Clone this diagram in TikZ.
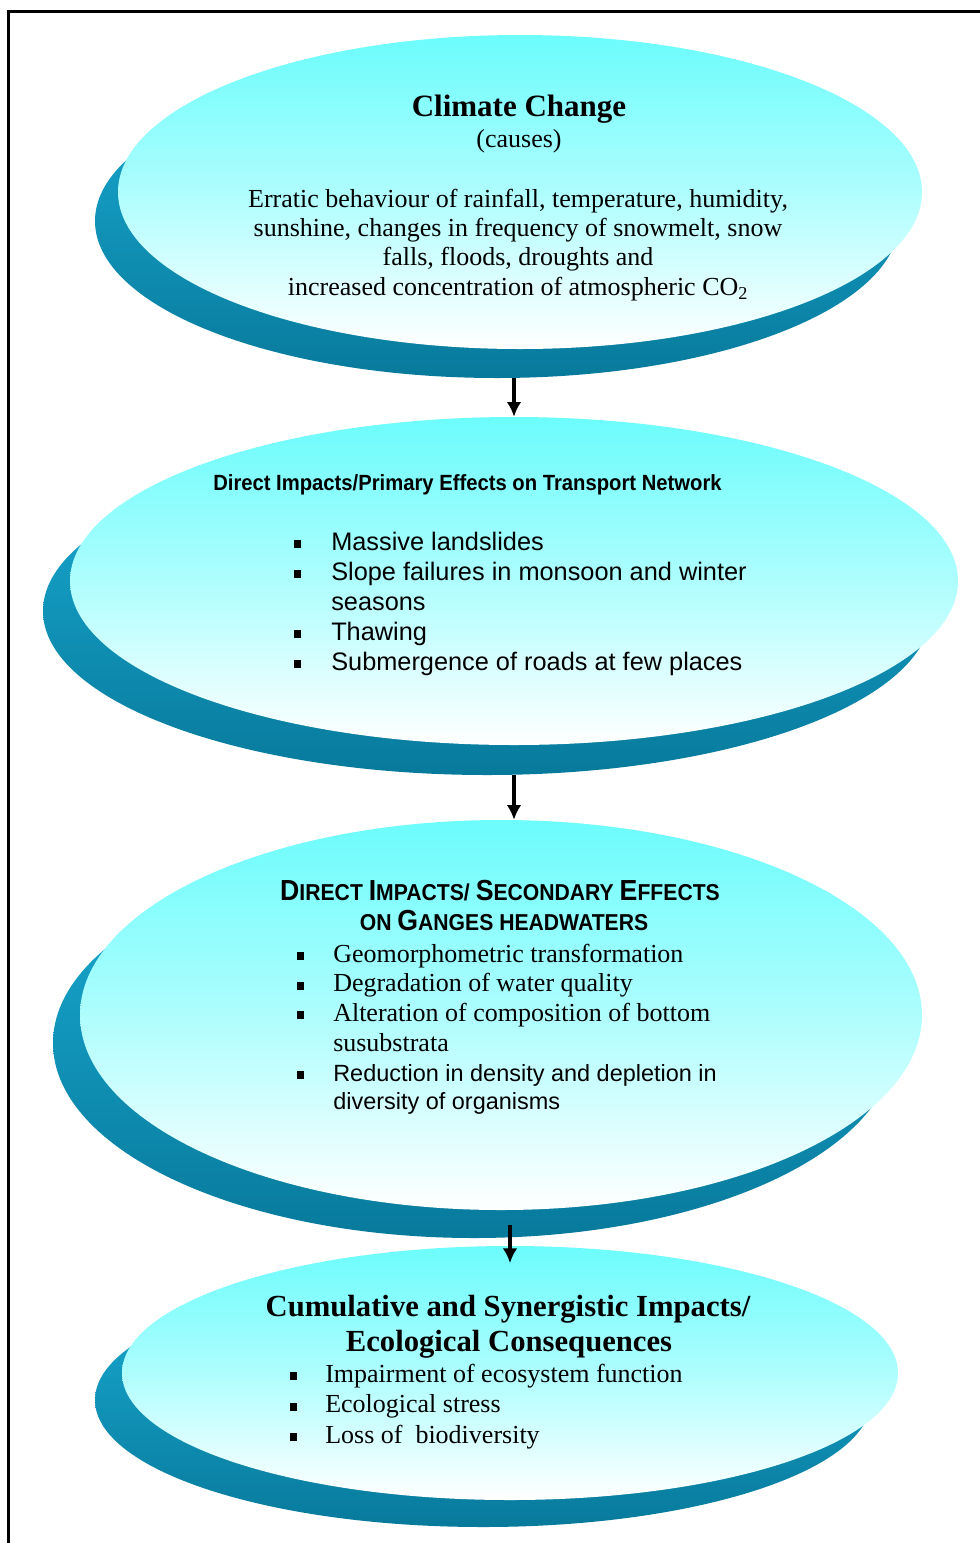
\documentclass[tikz,border=0pt]{standalone}
\usepackage{fontspec}
\setmainfont{Liberation Serif}
\setsansfont{Liberation Sans}
\newfontfamily\narrowsans[FakeStretch=0.92]{Liberation Sans}
\usepackage{tikz}
\usetikzlibrary{shapes.geometric,arrows.meta}
\pgfdeclarelayer{rimlayer}
\pgfdeclarelayer{facelayer}
\pgfsetlayers{rimlayer,facelayer,main}
\definecolor{facecyan}{RGB}{108,252,252}
\definecolor{rimlight}{RGB}{26,172,212}
\definecolor{rimdark}{RGB}{8,122,156}
\tikzstyle{face}=[ellipse, inner sep=0, top color=facecyan, bottom color=white, middle color=facecyan!55!white]
\tikzstyle{rim}=[ellipse, inner sep=0, top color=rimlight, bottom color=rimdark]
\tikzstyle{txt}=[inner sep=0, anchor=base]
\tikzstyle{listtxt}=[inner sep=0, anchor=base west]
\tikzstyle{flow}=[line width=2.4pt, -{Latex[length=11pt,width=11pt]}]
\newcommand{\sqb}{\rule[1.5pt]{5pt}{6pt}}
\newcommand{\bigletter}[1]{{\fontsize{21.75}{24}\selectfont #1}}

\begin{document}
\begin{tikzpicture}[x=0.75pt, y=-0.75pt]
	\useasboundingbox (0,0) rectangle (980,1543);
	\draw [line width=2.25pt] (8,1543) -- (8,11) -- (980,11);
	\begin{pgfonlayer}{rimlayer}
		\node [style=rim, minimum width=603pt, minimum height=235.5pt] (5) at (497, 221) {};
		\node [style=rim, minimum width=666pt, minimum height=246pt] (6) at (487, 611) {};
		\node [style=rim, minimum width=631.5pt, minimum height=292.5pt] (7) at (474, 1043) {};
		\node [style=rim, minimum width=582pt, minimum height=190.5pt] (8) at (483, 1400) {};
	\end{pgfonlayer}
	\begin{pgfonlayer}{facelayer}
		\node [style=face, minimum width=603pt, minimum height=235.5pt] (1) at (520, 192) {};
		\node [style=face, minimum width=666pt, minimum height=246pt] (2) at (514, 581) {};
		\node [style=face, minimum width=631.5pt, minimum height=292.5pt] (3) at (501, 1015) {};
		\node [style=face, minimum width=582pt, minimum height=190.5pt] (4) at (510, 1373) {};
	\end{pgfonlayer}
	% causes
	\node [style=txt] (9) at (519, 116) {\fontsize{23.25}{28}\selectfont\bfseries Climate Change};
	\node [style=txt] (10) at (519, 147) {\fontsize{19.5}{22}\selectfont (causes)};
	\node [style=txt] (11) at (518, 207) {\fontsize{19.5}{22}\selectfont
		\begin{tabular}[t]{@{}c@{}}
			Erratic behaviour of rainfall, temperature, humidity,\\
			sunshine, changes in frequency of snowmelt, snow\\
			falls, floods, droughts and\\
			increased concentration of atmospheric CO\textsubscript{2}
		\end{tabular}};
	% primary effects
	\node [style=listtxt] (12) at (213, 490) {\narrowsans\bfseries\fontsize{16.5}{20}\selectfont Direct Impacts/Primary Effects on Transport Network};
	\node [style=listtxt] (13) at (294, 550) {\sffamily\fontsize{19}{22.5}\selectfont
		\begin{tabular}[t]{@{}l@{\hspace{22.75pt}}l@{}}
			\sqb & Massive landslides\\
			\sqb & Slope failures in monsoon and winter\\
			     & seasons\\
			\sqb & Thawing\\
			\sqb & Submergence of roads at few places
		\end{tabular}};
	% secondary effects
	\node [style=txt] (14) at (500, 900) {\narrowsans\bfseries\fontsize{17.25}{20}\selectfont
		\bigletter{D}IRECT \bigletter{I}MPACTS/ \bigletter{S}ECONDARY \bigletter{E}FFECTS};
	\node [style=txt] (15) at (504, 930) {\narrowsans\bfseries\fontsize{17.25}{20}\selectfont
		ON \bigletter{G}ANGES HEADWATERS};
	\node [style=listtxt] (16) at (297, 962) {\fontsize{19.5}{22.3}\selectfont
		\begin{tabular}[t]{@{}l@{\hspace{22pt}}l@{}}
			\sqb & Geomorphometric transformation\\
			\sqb & Degradation of water quality\\
			\sqb & Alteration of composition of bottom\\
			     & susubstrata
		\end{tabular}};
	\node [style=listtxt] (17) at (297, 1081) {\sffamily\fontsize{17.6}{21}\selectfont
		\begin{tabular}[t]{@{}l@{\hspace{22pt}}l@{}}
			\sqb & Reduction in density and depletion in\\
			     & diversity of organisms
		\end{tabular}};
	% consequences
	\node [style=txt] (18) at (508, 1316) {\fontsize{23}{28}\selectfont\bfseries Cumulative and Synergistic Impacts/};
	\node [style=txt] (19) at (509, 1351) {\fontsize{23}{28}\selectfont\bfseries Ecological Consequences};
	\node [style=listtxt] (20) at (290, 1382) {\fontsize{19.5}{22.9}\selectfont
		\begin{tabular}[t]{@{}l@{\hspace{21.25pt}}l@{}}
			\sqb & Impairment of ecosystem function\\
			\sqb & Ecological stress\\
			\sqb & Loss of\ \ biodiversity
		\end{tabular}};
	\draw [style=flow] (2.north |- 5.south) -- (2.north);
	\draw [style=flow] (2.south |- 6.south) -- (2.south |- 3.north);
	\draw [style=flow, shorten <=11pt] (4.north |- 3.south) -- ([yshift=-13pt]4.north);
\end{tikzpicture}
\end{document}
